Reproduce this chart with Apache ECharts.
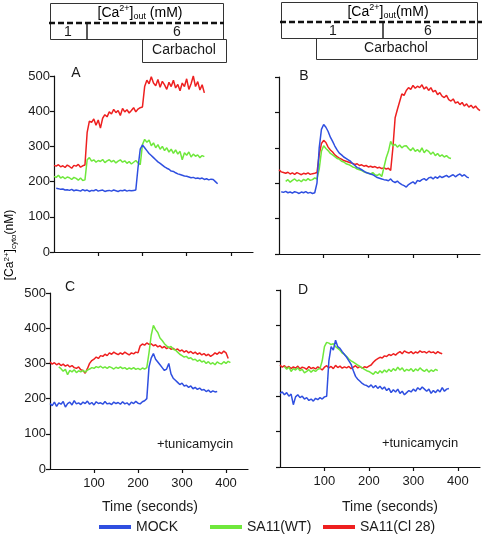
<!DOCTYPE html>
<html><head><meta charset="utf-8">
<script src="https://cdn.jsdelivr.net/npm/echarts@6/dist/echarts.min.js"></script>
<style>html,body{margin:0;padding:0;background:#fff}#c{width:482px;height:536px}</style>
</head><body><div id="c"></div>
<script>
const STEP = 5;
const seriesNames = ['MOCK', 'SA11(WT)', 'SA11(Cl 28)'];
const yTicks = [0, 100, 200, 300, 400, 500];
const xTicks = [100, 200, 300, 400];
const panelLabels = ['A', 'B', 'C', 'D'];

// Panel A (start times in seconds, values nM every STEP s)
const mockA_t0 = 5;
const mockA = [181,180,178,179,176,177,175,178,174,176,175,173,177,174,176,172,175,174,177,173,175,176,172,174,175,173,176,174,172,175,174,176,173,175,174,175,176,
  240,292,304,296,288,280,274,268,262,256,252,247,242,238,235,230,229,225,222,220,218,216,215,213,211,212,209,210,208,210,206,208,205,207,206,200,194];
const wtA_t0 = 0;
const wtA = [215,212,218,210,214,208,213,211,206,212,209,204,210,203,205,
  262,268,258,262,255,260,257,263,254,259,262,256,260,253,258,262,255,259,252,257,250,255,260,253,248,
  305,320,312,318,302,310,296,305,292,300,288,296,284,292,280,290,278,286,262,282,275,284,270,278,272,276,268,274,271];
const clA_t0 = 0;
const clA = [246,244,248,242,245,240,247,243,238,246,244,249,241,245,247,
  340,372,368,378,360,375,352,380,390,384,398,392,405,396,402,388,408,398,404,395,402,410,398,406,410,412,
  470,488,478,498,480,472,490,468,485,475,462,482,470,488,466,476,458,480,470,492,462,478,500,470,484,460,475,452];

// Panel B
const mockB_t0 = 5;
const mockB = [176,174,177,173,175,172,176,174,171,175,173,176,172,174,171,173,
  200,300,352,366,358,346,330,318,305,294,285,280,274,270,266,262,255,250,244,242,238,234,230,228,226,224,220,216,214,212,210,209,207,212,205,202,206,200,196,193,189,196,200,204,198,208,205,210,213,208,215,217,212,218,214,220,216,219,222,217,221,224,218,223,226,220,224,218,215];
const wtB_t0 = 15;
const wtB = [205,210,203,208,212,206,209,204,211,207,213,208,210,215,212,
  240,290,306,298,292,284,280,275,270,268,262,260,255,253,250,246,244,240,238,236,232,230,228,226,230,224,222,226,219,
  245,272,290,318,305,310,302,308,300,305,306,298,292,300,290,295,288,300,286,294,290,282,288,278,284,276,280,274,278,272,270];
const clB_t0 = 0;
const clB = [238,232,230,228,231,226,229,225,230,227,224,228,226,229,225,227,228,230,
  280,312,321,315,302,294,288,280,275,271,268,264,262,260,258,256,253,255,250,252,248,250,246,248,245,247,243,245,241,244,240,242,236,
  300,385,408,430,452,448,462,470,465,476,468,474,470,478,466,472,462,470,458,462,450,456,446,442,448,436,432,438,426,430,422,428,418,424,415,420,412,418,410,405];

// Panel C
const mockC_t0 = 0;
const mockC = [186,180,190,178,188,184,192,176,186,190,182,194,185,188,183,190,186,193,184,189,182,191,186,188,184,192,185,187,183,190,186,189,184,191,185,188,182,190,186,192,187,185,191,194,
  200,290,315,328,312,304,296,288,280,284,300,270,258,252,246,240,244,236,238,232,236,228,232,226,230,224,226,220,224,218,222,219,220];
const wtC_t0 = 20;
const wtC = [290,285,278,283,268,280,276,282,274,279,276,280,275,281,284,288,286,291,288,292,287,290,286,291,288,284,289,286,290,285,288,283,287,284,288,283,286,282,287,284,288,
  330,380,408,396,388,372,365,356,350,345,348,340,338,332,326,322,318,320,314,316,310,312,306,310,304,307,300,305,298,302,296,304,300,298,305,300,306,302];
const clC_t0 = 0;
const clC = [304,298,302,296,300,294,298,292,296,290,294,288,286,290,282,280,272,285,300,308,312,318,314,322,320,326,322,330,326,332,328,325,330,326,332,328,324,330,327,332,330,
  350,355,352,358,354,356,350,353,347,350,344,348,342,346,340,343,338,341,335,338,332,336,330,334,328,332,326,330,324,328,322,326,320,324,330,326,332,328,335,330,314];

// Panel D
const mockD_t0 = 0;
const mockD = [208,212,204,210,200,206,176,198,204,196,200,192,196,188,192,186,194,190,196,192,198,200,
  300,340,330,358,340,335,326,318,310,300,290,272,256,248,242,236,232,230,226,232,224,230,222,228,220,226,216,222,210,218,212,220,208,214,204,210,216,212,220,214,224,218,226,220,214,220,208,216,210,218,212,224,214,220,222];
const wtD_t0 = 10;
const wtD = [284,276,282,270,278,274,280,272,276,266,270,275,268,274,270,276,278,
  300,340,352,350,346,348,340,335,330,322,318,312,305,300,296,292,288,284,280,276,272,270,266,262,270,264,272,266,274,268,276,270,278,272,282,274,280,270,276,272,278,270,277,272,280,274,270,276,268,274,270,276,272];
const clD_t0 = 0;
const clD = [288,282,286,280,284,278,283,279,285,277,282,280,276,284,278,281,277,283,279,274,282,286,280,284,278,287,281,285,279,283,280,284,278,282,286,280,284,279,283,281,285,288,
  296,302,306,310,308,314,312,318,315,320,316,322,326,320,328,324,322,326,320,325,322,328,324,326,322,327,323,325,320,326,322,320];

const panels = [
  {mock:[mockA_t0,mockA], wt:[wtA_t0,wtA], cl:[clA_t0,clA]},
  {mock:[mockB_t0,mockB], wt:[wtB_t0,wtB], cl:[clB_t0,clB]},
  {mock:[mockC_t0,mockC], wt:[wtC_t0,wtC], cl:[clC_t0,clC]},
  {mock:[mockD_t0,mockD], wt:[wtD_t0,wtD], cl:[clD_t0,clD]}
];

function pts(t0, vals){ return vals.map((v,i)=>[t0 + i*STEP, v]); }

const FONT = 'Liberation Sans, Arial, sans-serif';
const TXT = '#1a1a1a';
const colors = {mock:'#2f4fe0', wt:'#6fe83c', cl:'#ee2020'};

const grids = [
  {left:54, top:76, width:199, height:176},
  {left:279, top:77, width:201, height:177},
  {left:50, top:293, width:198, height:176},
  {left:280, top:290, width:200, height:177}
];

const xAxes = grids.map((g,i)=>({
  type:'value', gridIndex:i, min:0, max:450,
  axisLine:{show:true, lineStyle:{color:'#111', width:1.2}},
  axisTick:{show:true, customValues:xTicks, length:4, lineStyle:{color:'#111', width:1.2}},
  axisLabel:{show:i>=2, customValues:xTicks, fontFamily:FONT, fontSize:13, color:TXT, margin:8},
  splitLine:{show:false}
}));
const yAxes = grids.map((g,i)=>({
  type:'value', gridIndex:i, min:0, max:500, interval:100,
  axisLine:{show:true, lineStyle:{color:'#111', width:1.2}},
  axisTick:{show:true, length:4, lineStyle:{color:'#111', width:1.2}},
  axisLabel:{show:(i%2===0), fontFamily:FONT, fontSize:13, color:TXT, margin:4},
  splitLine:{show:false}
}));

const series = [];
panels.forEach((p,i)=>{
  [['mock',0],['wt',1],['cl',2]].forEach(([k,ni])=>{
    series.push({
      type:'line', name:seriesNames[ni], xAxisIndex:i, yAxisIndex:i,
      data:pts(p[k][0], p[k][1]), showSymbol:false, symbol:'none',
      lineStyle:{color:colors[k], width:1.5}, itemStyle:{color:colors[k]},
      z: 2 + (k==='cl'?0:k==='wt'?1:2)
    });
  });
});

const rich = {
  a:{fontFamily:FONT, fontSize:14, color:TXT, lineHeight:17},
  sup:{fontFamily:FONT, fontSize:9, color:TXT, verticalAlign:'top', padding:[0,0,6,0]},
  sub:{fontFamily:FONT, fontSize:9, color:TXT, verticalAlign:'bottom', padding:[5,0,0,0]}
};
const richY = {
  a:{fontFamily:FONT, fontSize:12, color:TXT, lineHeight:15},
  sup:{fontFamily:FONT, fontSize:8, color:TXT, verticalAlign:'top', padding:[0,0,5,0]},
  sub:{fontFamily:FONT, fontSize:8, color:TXT, verticalAlign:'bottom', padding:[4,0,0,0]}
};
const stroke = {stroke:'#333', lineWidth:1, fill:'none'};

const graphic = [
  // Left protocol box
  {type:'rect', shape:{x:50.5, y:3.5, width:173, height:36}, style:stroke},
  {type:'line', shape:{x1:87, y1:23, x2:87, y2:39}, style:{stroke:'#222', lineWidth:1.5}},
  {type:'rect', shape:{x:142.5, y:39.5, width:84, height:23}, style:stroke},
  {type:'line', shape:{x1:49, y1:23, x2:224, y2:23}, style:{stroke:'#111', lineWidth:2.5, lineDash:[6,3]}},
  {type:'text', x:140, y:13, style:{text:'{a|[Ca}{sup|2+}{a|]}{sub|out}{a| (mM)}', rich:rich, align:'center', verticalAlign:'middle'}},
  {type:'text', x:68, y:32, style:{text:'1', font:'14px '+FONT, fill:TXT, align:'center', verticalAlign:'middle'}},
  {type:'text', x:177, y:32, style:{text:'6', font:'14px '+FONT, fill:TXT, align:'center', verticalAlign:'middle'}},
  {type:'text', x:184, y:50, style:{text:'Carbachol', font:'14px '+FONT, fill:TXT, align:'center', verticalAlign:'middle'}},
  // Right protocol box
  {type:'rect', shape:{x:281.5, y:2.5, width:196, height:36}, style:stroke},
  {type:'line', shape:{x1:383, y1:22, x2:383, y2:38}, style:{stroke:'#222', lineWidth:1.5}},
  {type:'rect', shape:{x:316.5, y:38.5, width:161, height:21}, style:stroke},
  {type:'line', shape:{x1:280, y1:22, x2:482, y2:22}, style:{stroke:'#111', lineWidth:2.5, lineDash:[6,3]}},
  {type:'text', x:388, y:12, style:{text:'{a|[Ca}{sup|2+}{a|]}{sub|out}{a|(mM)}', rich:rich, align:'center', verticalAlign:'middle'}},
  {type:'text', x:333, y:31, style:{text:'1', font:'14px '+FONT, fill:TXT, align:'center', verticalAlign:'middle'}},
  {type:'text', x:428, y:31, style:{text:'6', font:'14px '+FONT, fill:TXT, align:'center', verticalAlign:'middle'}},
  {type:'text', x:396, y:48, style:{text:'Carbachol', font:'14px '+FONT, fill:TXT, align:'center', verticalAlign:'middle'}},
  // Panel letters
  {type:'text', x:76, y:73, style:{text:panelLabels[0], font:'14px '+FONT, fill:TXT, align:'center', verticalAlign:'middle'}},
  {type:'text', x:304, y:76, style:{text:panelLabels[1], font:'14px '+FONT, fill:TXT, align:'center', verticalAlign:'middle'}},
  {type:'text', x:70, y:287, style:{text:panelLabels[2], font:'14px '+FONT, fill:TXT, align:'center', verticalAlign:'middle'}},
  {type:'text', x:303, y:290, style:{text:panelLabels[3], font:'14px '+FONT, fill:TXT, align:'center', verticalAlign:'middle'}},
  // tunicamycin
  {type:'text', x:195, y:444, style:{text:'+tunicamycin', font:'13px '+FONT, fill:TXT, align:'center', verticalAlign:'middle'}},
  {type:'text', x:420, y:443, style:{text:'+tunicamycin', font:'13px '+FONT, fill:TXT, align:'center', verticalAlign:'middle'}},
  // x titles
  {type:'text', x:150, y:507, style:{text:'Time (seconds)', font:'14px '+FONT, fill:TXT, align:'center', verticalAlign:'middle'}},
  {type:'text', x:390, y:507, style:{text:'Time (seconds)', font:'14px '+FONT, fill:TXT, align:'center', verticalAlign:'middle'}},
  // y title
  {type:'text', x:10, y:245, rotation:Math.PI/2, style:{text:'{a|[Ca}{sup|2+}{a|]}{sub|cyto}{a|(nM)}', rich:richY, align:'center', verticalAlign:'middle'}}
];

function leg(name, left){
  return {data:[name], left:left, top:520, padding:0, orient:'horizontal', icon:'rect', itemWidth:32, itemHeight:4, itemGap:0,
    textStyle:{fontFamily:FONT, fontSize:14, color:TXT}, selectedMode:false};
}

const chart = echarts.init(document.getElementById('c'), null, {renderer:'canvas'});
chart.setOption({
  animation:false,
  backgroundColor:'#fff',
  grid:grids,
  xAxis:xAxes,
  yAxis:yAxes,
  series:series,
  graphic:graphic,
  legend:[leg(seriesNames[0],99), leg(seriesNames[1],210), leg(seriesNames[2],323)]
});
</script>
</body></html>
